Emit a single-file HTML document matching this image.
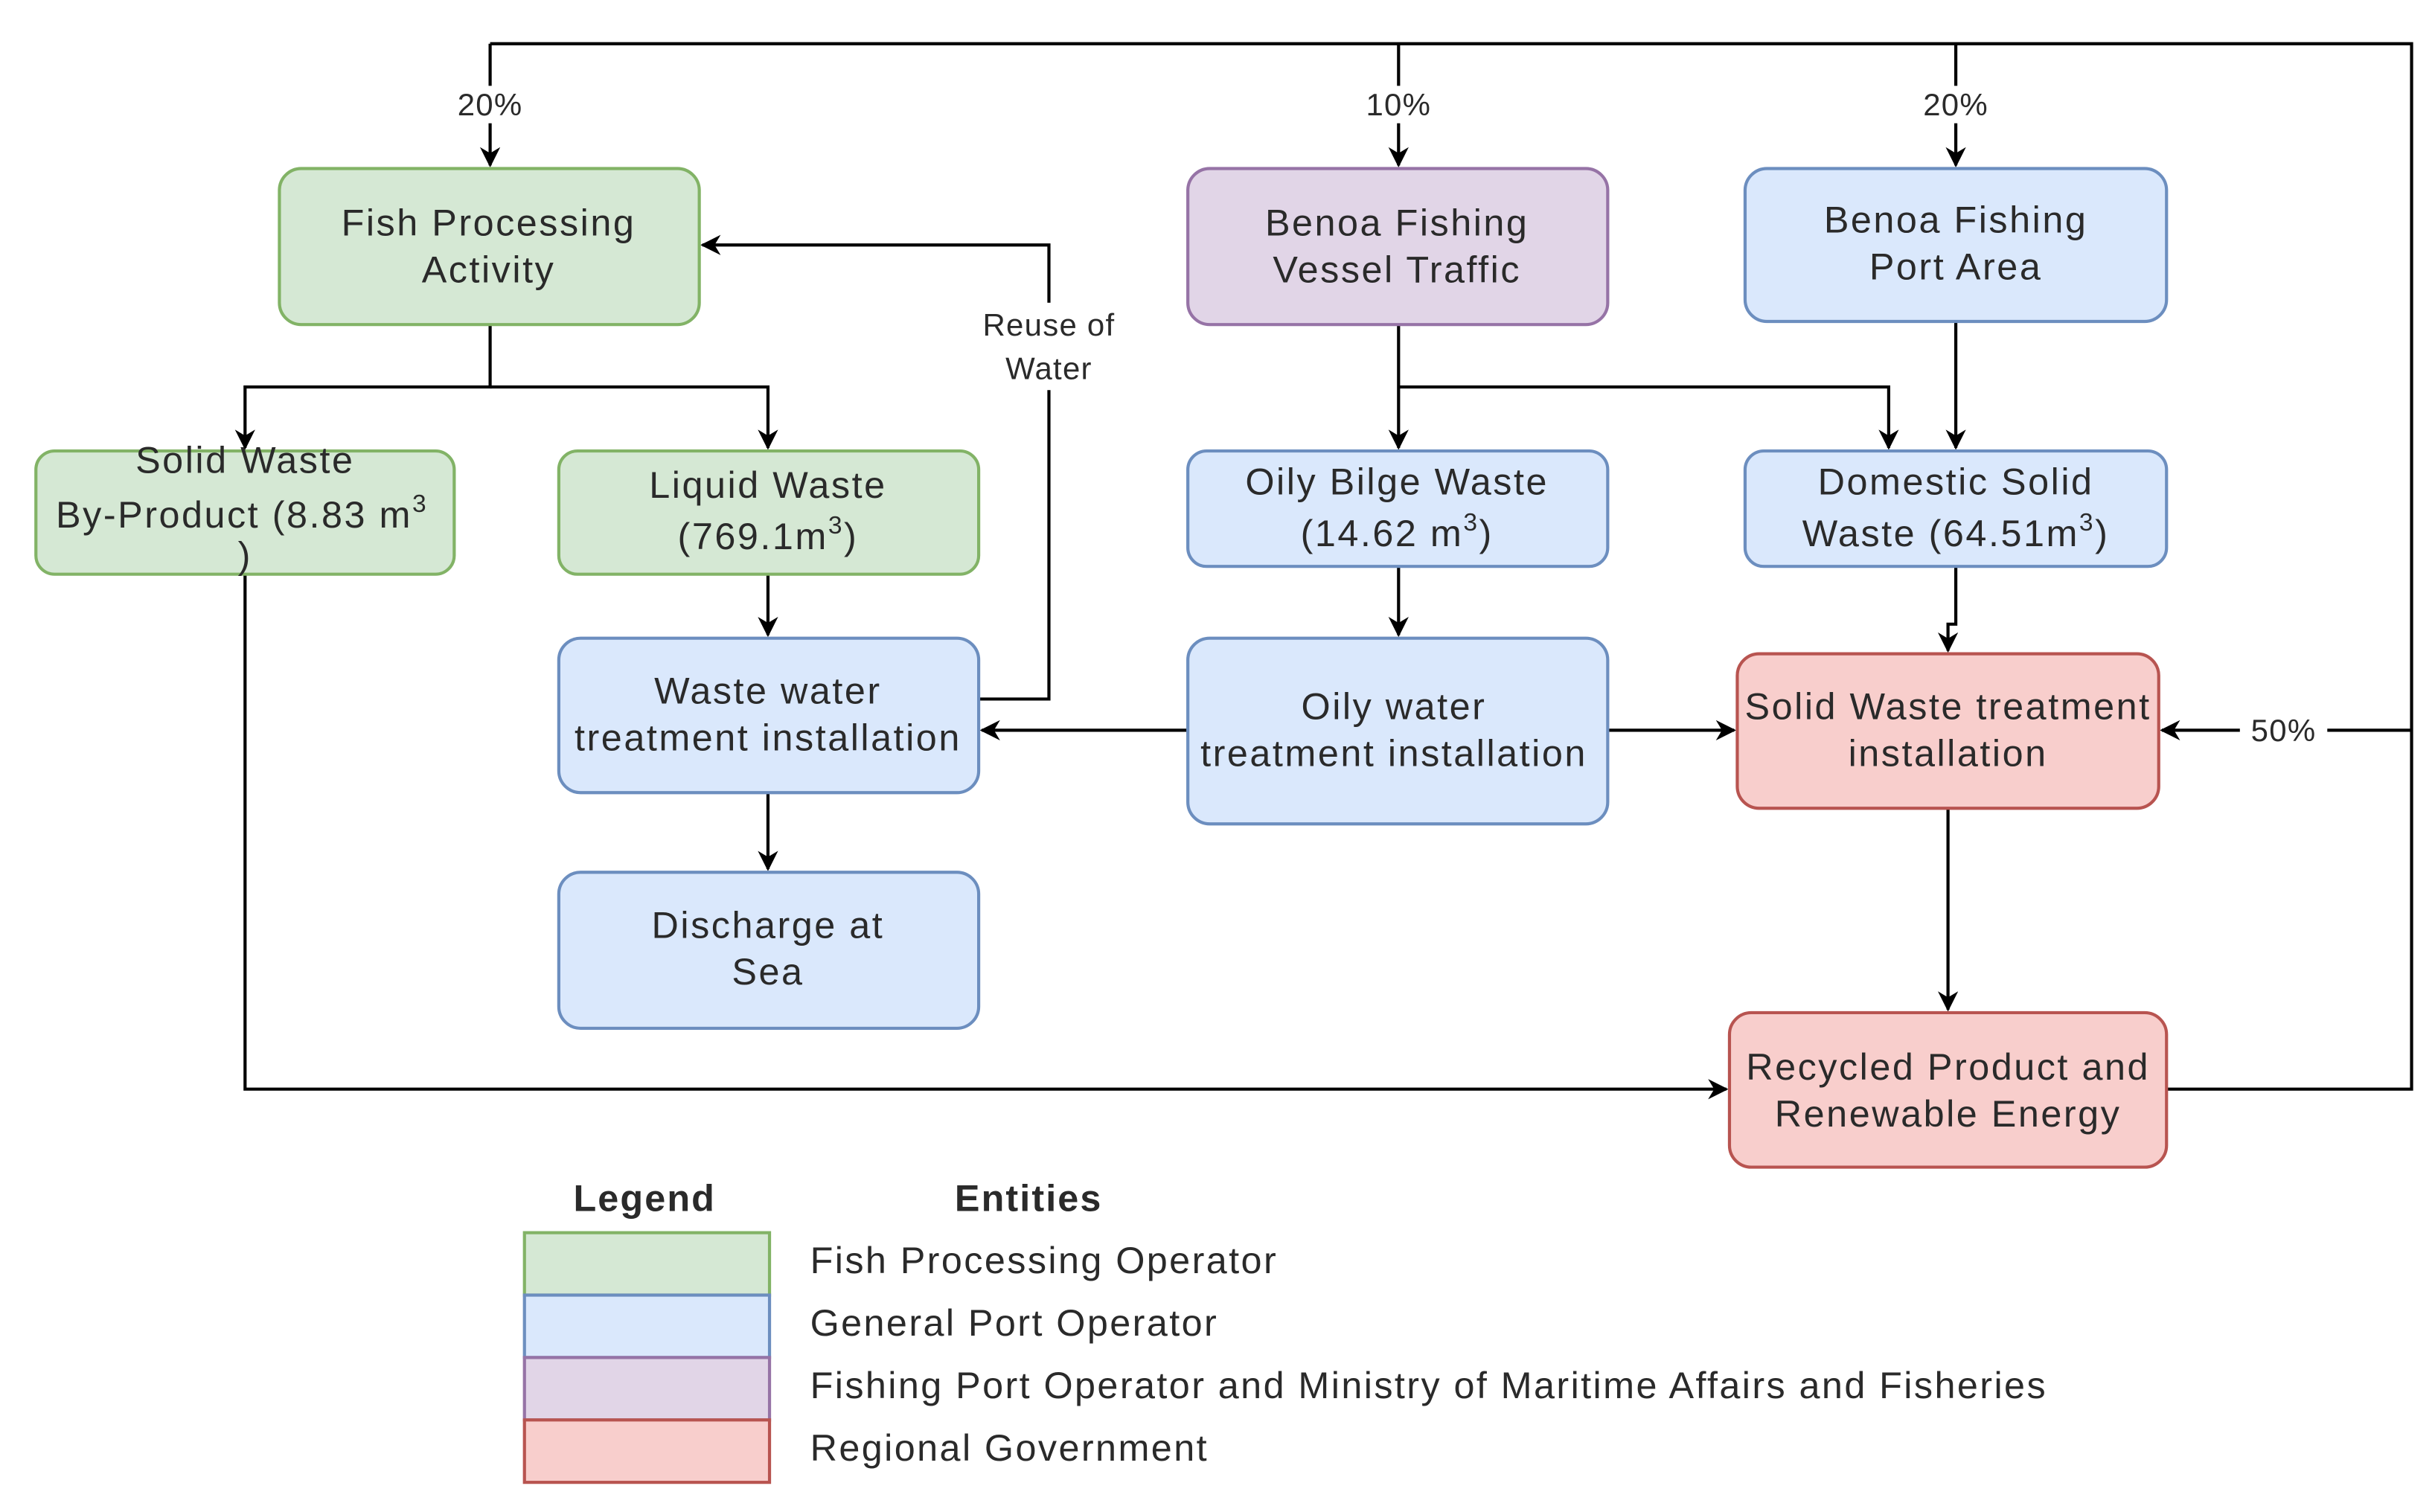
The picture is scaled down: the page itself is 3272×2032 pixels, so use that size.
<!DOCTYPE html>
<html><head><meta charset="utf-8"><style>
html,body{margin:0;padding:0;background:#fff;}
svg{display:block;}
text{font-family:"Liberation Sans",Arial,sans-serif;fill:#2a2a2a;}
</style></head><body>
<svg width="3272" height="2032" viewBox="0 0 1560 969" preserveAspectRatio="none" xmlns="http://www.w3.org/2000/svg">
<defs>
<marker id="a" viewBox="0 0 10 10" refX="9" refY="5" markerWidth="13" markerHeight="13" markerUnits="userSpaceOnUse" orient="auto">
<path d="M0,0 L10,5 L0,10 L3,5 z" fill="#000"/></marker>
</defs>
<rect width="1560" height="969" fill="#fff"/>
<g stroke="#000" stroke-width="2" fill="none">
<polyline points="1388,698 1545,698 1545,28 314,28"/>
<line x1="314" y1="28" x2="314" y2="106" marker-end="url(#a)"/>
<line x1="896" y1="28" x2="896" y2="106" marker-end="url(#a)"/>
<line x1="1253" y1="28" x2="1253" y2="106" marker-end="url(#a)"/>
<line x1="1545" y1="468" x2="1385" y2="468" marker-end="url(#a)"/>
<polyline points="314,208 314,248 157,248 157,287" marker-end="url(#a)"/>
<polyline points="314,248 492,248 492,287" marker-end="url(#a)"/>
<line x1="492" y1="368" x2="492" y2="407" marker-end="url(#a)"/>
<line x1="492" y1="508" x2="492" y2="557" marker-end="url(#a)"/>
<polyline points="627,448 672,448 672,157 450,157" marker-end="url(#a)"/>
<line x1="896" y1="208" x2="896" y2="287" marker-end="url(#a)"/>
<polyline points="896,248 1210,248 1210,287" marker-end="url(#a)"/>
<line x1="1253" y1="206" x2="1253" y2="287" marker-end="url(#a)"/>
<line x1="896" y1="363" x2="896" y2="407" marker-end="url(#a)"/>
<polyline points="1253,363 1253,400 1248,400 1248,417" marker-end="url(#a)"/>
<line x1="761" y1="468" x2="629" y2="468" marker-end="url(#a)"/>
<line x1="1030" y1="468" x2="1111" y2="468" marker-end="url(#a)"/>
<line x1="1248" y1="518" x2="1248" y2="647" marker-end="url(#a)"/>
<polyline points="157,368 157,698 1106,698" marker-end="url(#a)"/>
</g>
<g font-size="20" text-anchor="middle" letter-spacing="0.6">
<rect x="286" y="55" width="56" height="24" fill="#fff"/><text x="314" y="74">20%</text>
<rect x="868" y="55" width="56" height="24" fill="#fff"/><text x="896" y="74">10%</text>
<rect x="1225" y="55" width="56" height="24" fill="#fff"/><text x="1253" y="74">20%</text>
<rect x="1435" y="456" width="56" height="24" fill="#fff"/><text x="1463" y="475">50%</text>
<rect x="616" y="194" width="112" height="56" fill="#fff"/>
<text x="672" y="215">Reuse of</text><text x="672" y="243">Water</text>
</g>
<g stroke-width="2">
<rect x="179" y="108" width="269" height="100" rx="14" fill="#d5e8d4" stroke="#82b366"/>
<rect x="761" y="108" width="269" height="100" rx="14" fill="#e1d5e7" stroke="#9673a6"/>
<rect x="1118" y="108" width="270" height="98" rx="14" fill="#dae8fc" stroke="#6c8ebf"/>
<rect x="23" y="289" width="268" height="79" rx="12" fill="#d5e8d4" stroke="#82b366"/>
<rect x="358" y="289" width="269" height="79" rx="12" fill="#d5e8d4" stroke="#82b366"/>
<rect x="761" y="289" width="269" height="74" rx="12" fill="#dae8fc" stroke="#6c8ebf"/>
<rect x="1118" y="289" width="270" height="74" rx="12" fill="#dae8fc" stroke="#6c8ebf"/>
<rect x="358" y="409" width="269" height="99" rx="14" fill="#dae8fc" stroke="#6c8ebf"/>
<rect x="761" y="409" width="269" height="119" rx="14" fill="#dae8fc" stroke="#6c8ebf"/>
<rect x="1113" y="419" width="270" height="99" rx="14" fill="#f8cecc" stroke="#b85450"/>
<rect x="358" y="559" width="269" height="100" rx="14" fill="#dae8fc" stroke="#6c8ebf"/>
<rect x="1108" y="649" width="280" height="99" rx="14" fill="#f8cecc" stroke="#b85450"/>
</g>
<g font-size="24" text-anchor="middle" letter-spacing="1.2">
<text x="313" y="151">Fish Processing</text><text x="313" y="181">Activity</text>
<text x="895" y="151">Benoa Fishing</text><text x="895" y="181">Vessel Traffic</text>
<text x="1253" y="149">Benoa Fishing</text><text x="1253" y="179">Port Area</text>
<text x="157" y="303">Solid Waste</text><text x="155" y="338">By-Product (8.83 m<tspan dy="-10" font-size="16">3</tspan></text><text x="157" y="364">)</text>
<text x="492" y="319">Liquid Waste</text><text x="492" y="352">(769.1m<tspan dy="-10" font-size="16">3</tspan><tspan dy="10">)</tspan></text>
<text x="895" y="317">Oily Bilge Waste</text><text x="895" y="350">(14.62 m<tspan dy="-10" font-size="16">3</tspan><tspan dy="10">)</tspan></text>
<text x="1253" y="317">Domestic Solid</text><text x="1253" y="350">Waste (64.51m<tspan dy="-10" font-size="16">3</tspan><tspan dy="10">)</tspan></text>
<text x="492" y="451">Waste water</text><text x="492" y="481">treatment installation</text>
<text x="893" y="461">Oily water</text><text x="893" y="491">treatment installation</text>
<text x="1248" y="461">Solid Waste treatment</text><text x="1248" y="491">installation</text>
<text x="492" y="601">Discharge at</text><text x="492" y="631">Sea</text>
<text x="1248" y="692">Recycled Product and</text><text x="1248" y="722">Renewable Energy</text>
</g>
<g font-size="24" font-weight="bold" text-anchor="middle" letter-spacing="1">
<text x="413" y="776">Legend</text><text x="659" y="776">Entities</text>
</g>
<g stroke-width="2">
<rect x="336" y="790" width="157" height="40" fill="#d5e8d4" stroke="#82b366"/>
<rect x="336" y="830" width="157" height="40" fill="#dae8fc" stroke="#6c8ebf"/>
<rect x="336" y="870" width="157" height="40" fill="#e1d5e7" stroke="#9673a6"/>
<rect x="336" y="910" width="157" height="40" fill="#f8cecc" stroke="#b85450"/>
</g>
<g font-size="24" letter-spacing="1.15">
<text x="519" y="816">Fish Processing Operator</text>
<text x="519" y="856">General Port Operator</text>
<text x="519" y="896">Fishing Port Operator and Ministry of Maritime Affairs and Fisheries</text>
<text x="519" y="936">Regional Government</text>
</g>
</svg>
</body></html>
